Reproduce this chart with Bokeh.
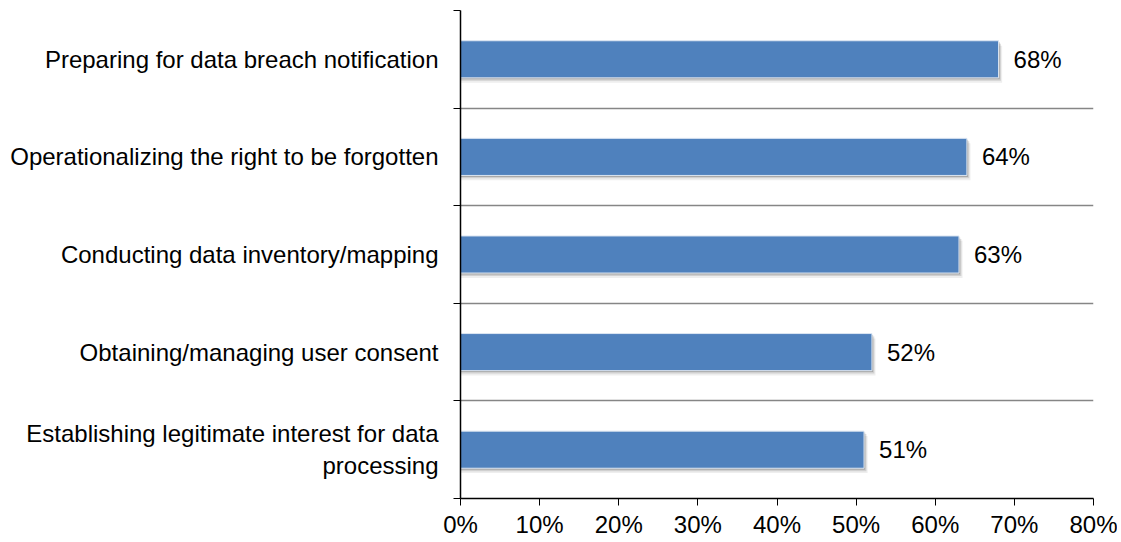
from bokeh.plotting import figure
from bokeh.models import Range1d, FixedTicker, PrintfTickFormatter, ColumnDataSource
from bokeh.core.properties import value
from bokeh.embed import file_html
from bokeh.resources import INLINE

categories = [
    "Preparing for data breach notification",
    "Operationalizing the right to be forgotten",
    "Conducting data inventory/mapping",
    "Obtaining/managing user consent",
    "Establishing legitimate interest for data\nprocessing",
]
values = [68, 64, 63, 52, 51]
x_ticks = [0, 10, 20, 30, 40, 50, 60, 70, 80]

FONT = "Liberation Sans"
n = len(categories)
ypos = [n - 0.5 - i for i in range(n)]
labels = [f"{v}%" for v in values]

src = ColumnDataSource(dict(y=ypos, v=values, lab=labels))

p = figure(width=1117, height=540, output_backend="svg", toolbar_location=None,
           x_range=Range1d(0, 80), y_range=Range1d(0, n),
           min_border_left=460, min_border_right=24, min_border_top=10, min_border_bottom=38)
p.outline_line_color = None
p.background_fill_color = "white"

# shadow layers
for k, (dy, a) in enumerate([(0.015, 0.28), (0.03, 0.17), (0.05, 0.09)]):
    sh = ColumnDataSource(dict(y=[y - dy for y in ypos], v=[v + 0.15 * (k + 1) for v in values]))
    p.hbar(y="y", right="v", left=0, height=0.38, source=sh,
           fill_color="#404040", fill_alpha=a, line_color=None)

p.hbar(y="y", right="v", left=0, height=0.38, source=src,
       fill_color="#4F81BD", line_color="#DCE6F2", line_width=1)

p.text(x="v", y="y", text="lab", source=src, x_offset=15,
       text_align="left", text_baseline="middle",
       text_font=value(FONT), text_font_size="24px", text_color="#000000")

# y axis: labels at centres, tick marks at boundaries
yt = FixedTicker(ticks=ypos, minor_ticks=list(range(0, n + 1)))
p.yaxis.ticker = yt
p.yaxis.major_label_overrides = {y: c for y, c in zip(ypos, categories)}
p.yaxis.major_tick_line_color = None
p.yaxis.major_tick_out = 0
p.yaxis.major_tick_in = 0
p.yaxis.minor_tick_line_color = "black"
p.yaxis.minor_tick_out = 7
p.yaxis.minor_tick_in = 0
p.yaxis.axis_line_color = "black"
p.yaxis.axis_line_width = 1.5
p.yaxis.major_label_standoff = 15
p.yaxis.major_label_text_font = FONT
p.yaxis.major_label_text_font_size = "24px"
p.yaxis.major_label_text_color = "#000000"

p.xaxis.ticker = FixedTicker(ticks=x_ticks, minor_ticks=[])
p.xaxis.formatter = PrintfTickFormatter(format="%d%%")
p.xaxis.axis_line_color = "black"
p.xaxis.axis_line_width = 1.5
p.xaxis.major_tick_line_color = "black"
p.xaxis.major_tick_out = 7
p.xaxis.major_tick_in = 0
p.xaxis.minor_tick_line_color = None
p.xaxis.major_label_standoff = 5
p.xaxis.major_label_text_font = FONT
p.xaxis.major_label_text_font_size = "24px"
p.xaxis.major_label_text_color = "#000000"

p.xgrid.grid_line_color = None
p.ygrid.ticker = FixedTicker(ticks=list(range(1, n + 1)))
p.ygrid.grid_line_color = "#868686"
p.ygrid.grid_line_width = 1.5

open("out.html", "w").write(file_html(p, INLINE))
